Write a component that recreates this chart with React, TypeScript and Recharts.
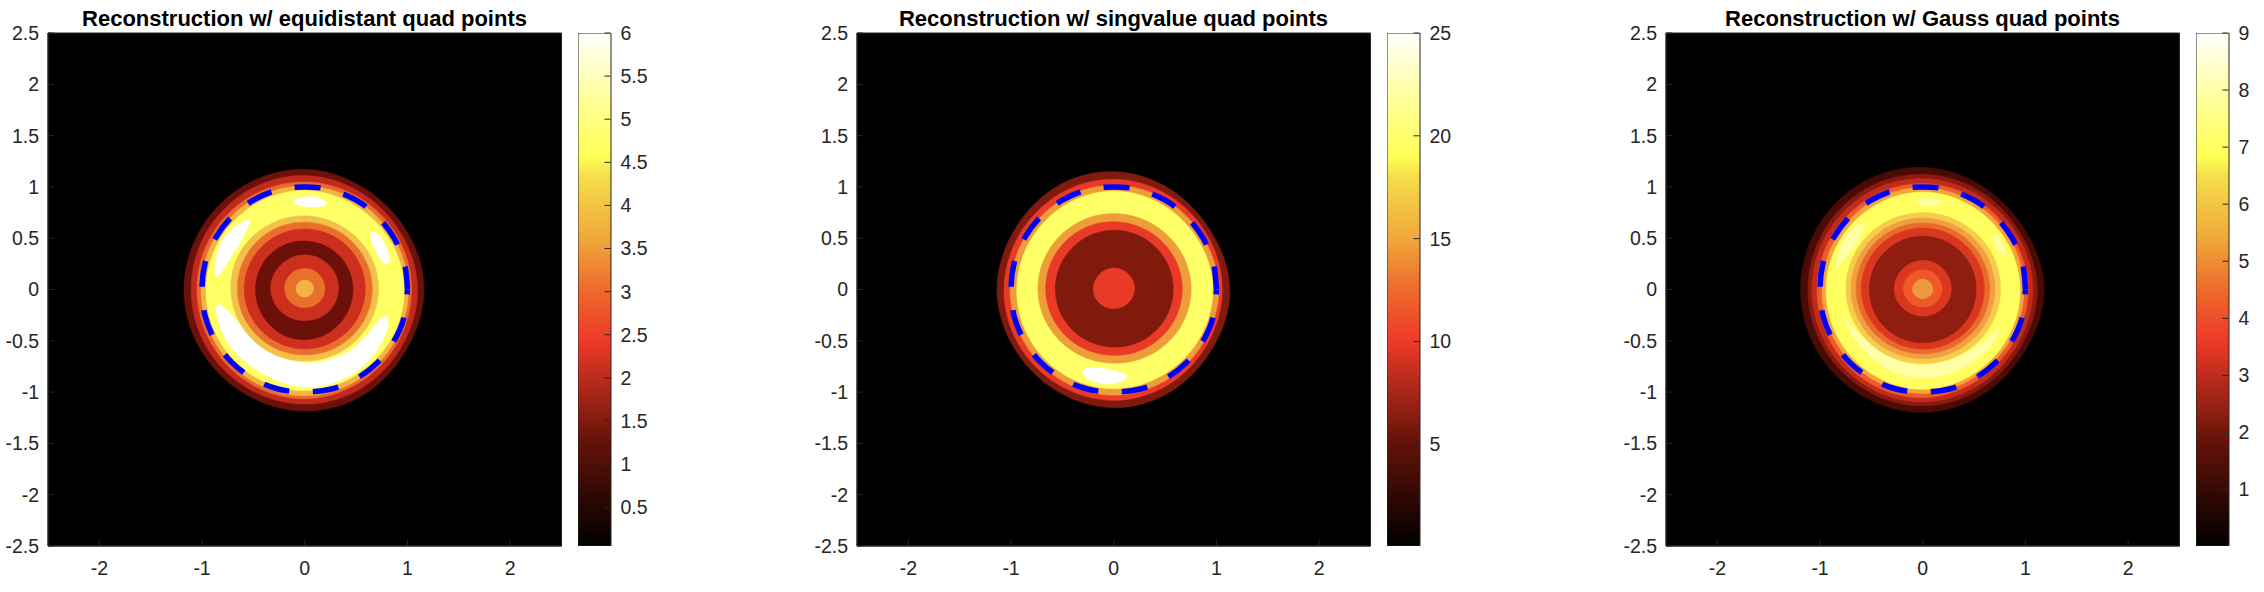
import { Bar, BarChart, ReferenceArea, Scatter, ScatterChart, XAxis, YAxis } from 'recharts';

const ANGLES = [0, 30, 60, 90, 120, 150, 180, 210, 240, 270, 300, 330];

const X_TICKS = [-2, -1, 0, 1, 2];
const Y_TICKS = [-2.5, -2, -1.5, -1, -0.5, 0, 0.5, 1, 1.5, 2, 2.5];

// exact circle |x|=1, as read, starting on the right so the dash pattern lines up
const CIRCLE_X = [1, 0.97, 0.87, 0.71, 0.5, 0.26, 0, -0.26, -0.5, -0.71, -0.87, -0.97, -1, -0.97, -0.87, -0.71, -0.5, -0.26, 0, 0.26, 0.5, 0.71, 0.87, 0.97, 1];
const CIRCLE_Y = [0, 0.26, 0.5, 0.71, 0.87, 0.97, 1, 0.97, 0.87, 0.71, 0.5, 0.26, 0, -0.26, -0.5, -0.71, -0.87, -0.97, -1, -0.97, -0.87, -0.71, -0.5, -0.26, 0];

// Panel 1: equidistant
const EQ_COLORS = ['#6b1109', '#c02a1c', '#ea6a2c', '#f3b541', '#ffff66', '#f3c04a', '#ea6f2d', '#cc2f1e', '#6b1109', '#cc2f1e', '#ea6f2d', '#f3b541'];
const EQ_RADII = [
    [1.17, 1.14, 1.14, 1.18, 1.17, 1.17, 1.18, 1.17, 1.17, 1.19, 1.18, 1.14],
    [1.105, 1.08, 1.09, 1.115, 1.11, 1.11, 1.105, 1.11, 1.11, 1.12, 1.11, 1.09],
    [1.04, 1.04, 1.04, 1.05, 1.05, 1.05, 1.05, 1.05, 1.06, 1.07, 1.05, 1.04],
    [1.01, 1.0, 1.0, 1.01, 1.01, 1.01, 1.01, 1.01, 1.03, 1.04, 1.02, 1.01],
    [0.97, 0.96, 0.95, 0.97, 0.96, 0.96, 0.96, 0.97, 0.98, 0.99, 0.97, 0.97],
    [0.72, 0.72, 0.71, 0.72, 0.72, 0.73, 0.72, 0.71, 0.7, 0.695, 0.7, 0.71],
    [0.66, 0.655, 0.655, 0.656, 0.66, 0.66, 0.656, 0.65, 0.64, 0.636, 0.64, 0.65],
    [0.59, 0.59, 0.59, 0.59, 0.59, 0.59, 0.59, 0.585, 0.58, 0.58, 0.58, 0.585],
    [0.47, 0.47, 0.47, 0.47, 0.48, 0.48, 0.48, 0.48, 0.49, 0.49, 0.48, 0.47],
    [0.33, 0.335, 0.335, 0.34, 0.335, 0.335, 0.335, 0.32, 0.31, 0.3, 0.31, 0.32],
    [0.197, 0.2, 0.205, 0.206, 0.205, 0.2, 0.197, 0.19, 0.18, 0.177, 0.18, 0.19],
    [0.085, 0.09, 0.092, 0.092, 0.09, 0.088, 0.085, 0.08, 0.075, 0.072, 0.075, 0.08],
];
const EQ_WHITE_TOP = [[-0.18, 0.85], [-0.02, 0.91], [0.12, 0.915], [0.28, 0.82], [0.05, 0.785]];
const EQ_WHITE_RIGHT = [[0.6, 0.6], [0.74, 0.55], [0.85, 0.3], [0.81, 0.21], [0.7, 0.33]];
const EQ_WHITE_LEFT = [[-0.49, 0.72], [-0.64, 0.65], [-0.82, 0.5], [-0.88, 0.26], [-0.88, 0.06], [-0.76, 0.25], [-0.62, 0.46]];
const EQ_WHITE_BOTTOM = [[-0.88, -0.07], [-0.86, -0.31], [-0.73, -0.585], [-0.49, -0.785], [-0.19, -0.94], [0.12, -0.97], [0.425, -0.87], [0.665, -0.685], [0.85, -0.34], [0.78, -0.2], [0.62, -0.445], [0.4, -0.65], [0.08, -0.73], [-0.2, -0.695], [-0.455, -0.535], [-0.68, -0.28]];

// Panel 2: singvalue
const SV_COLORS = ['#7f1a0d', '#e83a26', '#ee9e38', '#ffff66', '#ee9e38', '#e83a26', '#7f1a0d', '#e83a26'];
const SV_RADII = [
    [1.145, 1.09, 1.12, 1.155, 1.15, 1.12, 1.145, 1.12, 1.13, 1.16, 1.14, 1.11],
    [1.06, 1.05, 1.06, 1.08, 1.07, 1.06, 1.07, 1.07, 1.07, 1.085, 1.07, 1.05],
    [1.03, 1.0, 1.01, 1.02, 1.01, 1.0, 1.01, 1.01, 1.02, 1.036, 1.02, 1.01],
    [0.97, 0.95, 0.95, 0.965, 0.95, 0.94, 0.945, 0.95, 0.96, 0.97, 0.96, 0.96],
    [0.757, 0.75, 0.74, 0.74, 0.74, 0.74, 0.74, 0.73, 0.72, 0.715, 0.73, 0.745],
    [0.67, 0.665, 0.66, 0.66, 0.665, 0.665, 0.665, 0.655, 0.645, 0.64, 0.65, 0.66],
    [0.58, 0.58, 0.58, 0.577, 0.575, 0.57, 0.57, 0.565, 0.56, 0.56, 0.57, 0.575],
    [0.203, 0.205, 0.21, 0.21, 0.205, 0.2, 0.2, 0.195, 0.19, 0.185, 0.19, 0.195],
];
const SV_WHITE = [[-0.34, -0.78], [-0.2, -0.75], [0, -0.785], [0.175, -0.83], [0.07, -0.91], [-0.1, -0.935], [-0.27, -0.875]];

// Panel 3: Gauss
const GA_COLORS = ['#4a0a05', '#8a1a0e', '#c22b1c', '#ee5a2a', '#f5a53c', '#ffff5f', '#f6cc4c', '#f0a040', '#ea6a2a', '#d9381f', '#8f1d10', '#d9381f', '#f0582a', '#ee9a3c'];
const GA_RADII = [
    [1.2, 1.14, 1.16, 1.195, 1.2, 1.19, 1.19, 1.19, 1.19, 1.205, 1.18, 1.15],
    [1.125, 1.09, 1.11, 1.125, 1.13, 1.12, 1.12, 1.12, 1.125, 1.14, 1.12, 1.1],
    [1.08, 1.06, 1.065, 1.085, 1.085, 1.08, 1.08, 1.08, 1.09, 1.1, 1.08, 1.06],
    [1.03, 1.01, 1.02, 1.035, 1.03, 1.03, 1.03, 1.03, 1.05, 1.06, 1.03, 1.02],
    [0.99, 0.98, 0.98, 0.998, 0.99, 0.98, 0.98, 0.99, 1.0, 1.02, 0.99, 0.98],
    [0.95, 0.94, 0.94, 0.955, 0.94, 0.94, 0.94, 0.95, 0.96, 0.98, 0.96, 0.95],
    [0.76, 0.76, 0.75, 0.75, 0.75, 0.75, 0.75, 0.74, 0.73, 0.72, 0.73, 0.75],
    [0.705, 0.705, 0.7, 0.695, 0.7, 0.7, 0.7, 0.69, 0.68, 0.67, 0.68, 0.695],
    [0.655, 0.65, 0.65, 0.649, 0.65, 0.65, 0.65, 0.64, 0.63, 0.625, 0.63, 0.645],
    [0.6, 0.6, 0.6, 0.6, 0.6, 0.6, 0.6, 0.59, 0.58, 0.58, 0.585, 0.595],
    [0.52, 0.52, 0.52, 0.52, 0.52, 0.52, 0.52, 0.52, 0.52, 0.52, 0.52, 0.52],
    [0.28, 0.28, 0.285, 0.285, 0.28, 0.28, 0.28, 0.27, 0.26, 0.26, 0.26, 0.27],
    [0.19, 0.19, 0.193, 0.193, 0.19, 0.19, 0.19, 0.18, 0.175, 0.17, 0.175, 0.18],
    [0.1, 0.1, 0.1, 0.1, 0.1, 0.1, 0.1, 0.095, 0.09, 0.09, 0.09, 0.095],
];
const GA_PALE_TOP = [[-0.12, 0.855], [0.05, 0.91], [0.23, 0.855], [0.065, 0.79]];
const GA_PALE_RIGHT = [[0.65, 0.56], [0.77, 0.51], [0.83, 0.31], [0.73, 0.35]];
const GA_PALE_LEFT = [[-0.54, 0.69], [-0.69, 0.6], [-0.83, 0.4], [-0.86, 0.15], [-0.73, 0.34], [-0.6, 0.5]];
const GA_PALE_BOTTOM = [[-0.8, -0.23], [-0.64, -0.56], [-0.34, -0.81], [0, -0.89], [0.34, -0.81], [0.67, -0.6], [0.8, -0.28], [0.67, -0.46], [0.34, -0.68], [0, -0.76], [-0.3, -0.69], [-0.57, -0.49], [-0.74, -0.3]];

// colour bar
const BAR_STOPS = [0, 0.2, 0.4, 0.5, 0.6, 0.72, 0.76, 0.88, 1];
const BAR_COLORS = ['#000000', '#631208', '#ee3a28', '#ee6a2c', '#f0a83a', '#f5dd4a', '#ffff55', '#ffffa0', '#ffffff'];
const EQ_BAR_TICKS = [0.5, 1, 1.5, 2, 2.5, 3, 3.5, 4, 4.5, 5, 5.5, 6];
const SV_BAR_TICKS = [5, 10, 15, 20, 25];
const GA_BAR_TICKS = [1, 2, 3, 4, 5, 6, 7, 8, 9];

const FONT = '"Liberation Sans", Arial, sans-serif';
const TICK = { fontSize: 19.5, fontFamily: FONT, fill: '#262626' };

// basisClosed pulls a 12-point ring in by (2 + cos 30deg) / 3, so push the control points out
const RING_FIX = 1 / 0.9553;

const fromRadii = (radii: number[]) =>
    radii.map((r, i) => ({
        x: r * RING_FIX * Math.cos((ANGLES[i] * Math.PI) / 180),
        y: r * RING_FIX * Math.sin((ANGLES[i] * Math.PI) / 180),
    }));
const fromPairs = (pairs: number[][]) => pairs.map(([x, y]) => ({ x, y }));
const circle = CIRCLE_X.map((x, i) => ({ x, y: CIRCLE_Y[i] }));
const noShape = () => null;

interface PanelProps {
    left: number;
    title: string;
    colors: string[];
    radii: number[][];
    blobs: number[][][];
    blobColor: string;
    barId: string;
    barMin: number;
    barMax: number;
    barTicks: number[];
}

function Panel({ left, title, colors, radii, blobs, blobColor, barId, barMin, barMax, barTicks }: PanelProps) {
    // blobs sit on the yellow band, the inner contours go above them
    const yellowIndex = colors.findIndex((c) => c.startsWith('#ffff'));
    const contour = (r: number[], i: number) => (
        <Scatter
            key={`c${i}`}
            data={fromRadii(r)}
            shape={noShape}
            line={{ fill: colors[i], stroke: colors[i], strokeWidth: 0.5 }}
            lineJointType={'basisClosed' as any}
            isAnimationActive={false}
        />
    );
    const blob = (pairs: number[][], key: string, color: string) => (
        <Scatter
            key={key}
            data={fromPairs(pairs)}
            shape={noShape}
            line={{ fill: color, stroke: 'none' }}
            lineJointType={'basisClosed' as any}
            isAnimationActive={false}
        />
    );

    return (
        <>
            <div
                style={{
                    position: 'absolute',
                    left: left,
                    top: 5,
                    width: 513,
                    textAlign: 'center',
                    fontFamily: FONT,
                    fontWeight: 'bold',
                    fontSize: 22,
                    lineHeight: '28px',
                    color: '#000',
                    whiteSpace: 'nowrap',
                }}
            >
                {title}
            </div>
            <div style={{ position: 'absolute', left: left - 48, top: 0 }}>
                <ScatterChart width={48 + 513.5 + 12} height={592} margin={{ top: 33, right: 12, bottom: 0, left: 0 }}>
                    <XAxis
                        type="number"
                        dataKey="x"
                        domain={[-2.5, 2.5]}
                        ticks={X_TICKS}
                        interval={0}
                        height={46}
                        tick={TICK}
                        tickSize={-6}
                        tickMargin={21}
                        stroke="#262626"
                        allowDataOverflow
                    />
                    <YAxis
                        type="number"
                        dataKey="y"
                        domain={[-2.5, 2.5]}
                        ticks={Y_TICKS}
                        interval={0}
                        width={48}
                        tick={TICK}
                        tickSize={-6}
                        tickMargin={15}
                        stroke="#262626"
                        allowDataOverflow
                    />
                    <ReferenceArea x1={-2.5} x2={2.5} y1={-2.5} y2={2.5} fill="#000" fillOpacity={1} stroke="#262626" />
                    {radii.slice(0, yellowIndex + 1).map((r, i) => contour(r, i))}
                    {blobs.map((b, i) => blob(b, `b${i}`, blobColor))}
                    {radii.map((r, i) => (i > yellowIndex ? contour(r, i) : null))}
                    <Scatter
                        data={circle}
                        shape={noShape}
                        line={{ fill: 'none', stroke: '#0000ff', strokeWidth: 5.5, strokeDasharray: '26 23.6', strokeDashoffset: 3 }}
                        lineJointType="natural"
                        isAnimationActive={false}
                    />
                </ScatterChart>
            </div>
            <div style={{ position: 'absolute', left: left + 529.5, top: 0 }}>
                <BarChart
                    width={32.5 + 50}
                    height={592}
                    data={[{ name: 'bar', range: [barMin, barMax] }]}
                    margin={{ top: 33, right: 0, bottom: 46, left: 0 }}
                    barCategoryGap={0}
                >
                    <defs>
                        <linearGradient id={barId} x1="0" y1="1" x2="0" y2="0">
                            {BAR_STOPS.map((s, i) => (
                                <stop key={s} offset={s} stopColor={BAR_COLORS[i]} />
                            ))}
                        </linearGradient>
                    </defs>
                    <XAxis dataKey="name" hide />
                    <YAxis
                        orientation="right"
                        type="number"
                        domain={[barMin, barMax]}
                        ticks={barTicks}
                        interval={0}
                        width={50}
                        tick={{ ...TICK, textAnchor: 'start' }}
                        tickSize={-6}
                        tickMargin={16}
                        axisLine={false}
                        stroke="#262626"
                        allowDataOverflow
                    />
                    <Bar dataKey="range" fill={`url(#${barId})`} stroke="#262626" isAnimationActive={false} />
                </BarChart>
            </div>
        </>
    );
}

export default function App() {
    return (
        <div style={{ position: 'absolute', left: 0, top: 0, width: 2264, height: 592, background: '#fff', overflow: 'hidden' }}>
            <Panel
                left={48}
                title="Reconstruction w/ equidistant quad points"
                colors={EQ_COLORS}
                radii={EQ_RADII}
                blobs={[EQ_WHITE_TOP, EQ_WHITE_RIGHT, EQ_WHITE_LEFT, EQ_WHITE_BOTTOM]}
                blobColor="#ffffff"
                barId="barEq"
                barMin={0.05}
                barMax={6}
                barTicks={EQ_BAR_TICKS}
            />
            <Panel
                left={857}
                title="Reconstruction w/ singvalue quad points"
                colors={SV_COLORS}
                radii={SV_RADII}
                blobs={[SV_WHITE]}
                blobColor="#ffffff"
                barId="barSv"
                barMin={0.05}
                barMax={25}
                barTicks={SV_BAR_TICKS}
            />
            <Panel
                left={1666}
                title="Reconstruction w/ Gauss quad points"
                colors={GA_COLORS}
                radii={GA_RADII}
                blobs={[GA_PALE_BOTTOM, GA_PALE_TOP, GA_PALE_RIGHT, GA_PALE_LEFT]}
                blobColor="#ffffa8"
                barId="barGa"
                barMin={0.01}
                barMax={9}
                barTicks={GA_BAR_TICKS}
            />
        </div>
    );
}
